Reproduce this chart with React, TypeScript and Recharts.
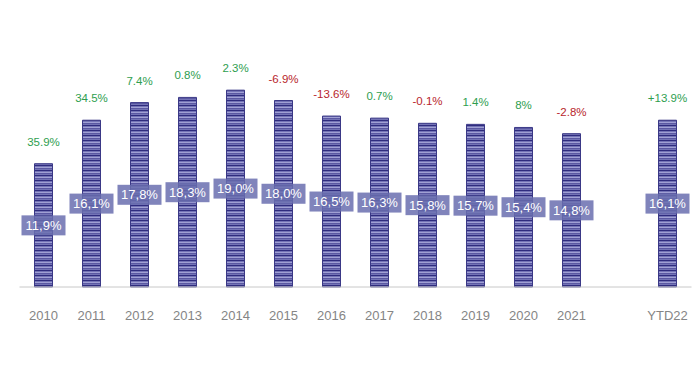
import React from 'react';
import { BarChart, Bar, XAxis, YAxis, LabelList } from 'recharts';

// one empty slot between 2021 and YTD22
const categories = ['2010', '2011', '2012', '2013', '2014', '2015', '2016', '2017', '2018', '2019', '2020', '2021', '', 'YTD22'];
const shares = [11.9, 16.1, 17.8, 18.3, 19.0, 18.0, 16.5, 16.3, 15.8, 15.7, 15.4, 14.8, null, 16.1];
const shareLabels = ['11,9%', '16,1%', '17,8%', '18,3%', '19,0%', '18,0%', '16,5%', '16,3%', '15,8%', '15,7%', '15,4%', '14,8%', '', '16,1%'];
const growthLabels = ['35.9%', '34.5%', '7.4%', '0.8%', '2.3%', '-6.9%', '-13.6%', '0.7%', '-0.1%', '1.4%', '8%', '-2.8%', '', '+13.9%'];

const data = categories.map((name, i) => ({
  name,
  share: shares[i],
  shareLabel: shareLabels[i],
  growth: growthLabels[i],
}));

const FONT = '"Liberation Sans", Arial, sans-serif';

const ShareBox = (props: any) => {
  const { x, y, width, height, value } = props;
  if (!value) return null;
  const cx = x + width / 2;
  const cy = y + height / 2;
  return (
    <g>
      <rect x={cx - 22} y={cy - 10} width={44} height={20} fill="#6a6eaf" fillOpacity={0.85} stroke="none" />
      <text x={cx} y={cy + 1} textAnchor="middle" dominantBaseline="middle" fill="#fff" stroke="none" fontSize={13} fontFamily={FONT}>
        {value}
      </text>
    </g>
  );
};

const GrowthLabel = (props: any) => {
  const { x, y, width, value } = props;
  if (!value) return null;
  const neg = String(value).startsWith('-');
  return (
    <text x={x + width / 2} y={y - 21} textAnchor="middle" dominantBaseline="middle" stroke="none" fill={neg ? '#b8262c' : '#2e9e4f'} fontSize={11.5} fontFamily={FONT}>
      {value}
    </text>
  );
};

export default function App() {
  return (
    <div style={{ position: 'absolute', left: 0, top: 0, width: 700, height: 368, background: '#fff' }}>
      <BarChart width={700} height={368} data={data} margin={{ top: 28, right: 8.5, left: 19.5, bottom: 0 }} barCategoryGap={0}>
        <defs>
          <pattern id="stripes" patternUnits="userSpaceOnUse" width={4} height={5}>
            <rect x={0} y={0} width={4} height={5} fill="#7474b6" />
            <rect x={0} y={0} width={4} height={1} fill="#2f2c7e" />
            <rect x={0} y={2} width={4} height={1} fill="#a0a0d4" />
            <rect x={0} y={3} width={4} height={1} fill="#5a58a2" />
          </pattern>
        </defs>
        <XAxis
          dataKey="name"
          height={81}
          tickLine={false}
          tickSize={0}
          tickMargin={24}
          axisLine={{ stroke: '#c8c8c8' }}
          tick={{ fill: '#858585', fontSize: 13, fontFamily: FONT }}
          interval={0}
        />
        <YAxis hide domain={[0, 25]} />
        <Bar dataKey="share" barSize={18} fill="url(#stripes)" stroke="#3a3886" strokeWidth={1} isAnimationActive={false}>
          <LabelList dataKey="shareLabel" content={ShareBox} />
          <LabelList dataKey="growth" content={GrowthLabel} />
        </Bar>
      </BarChart>
    </div>
  );
}
